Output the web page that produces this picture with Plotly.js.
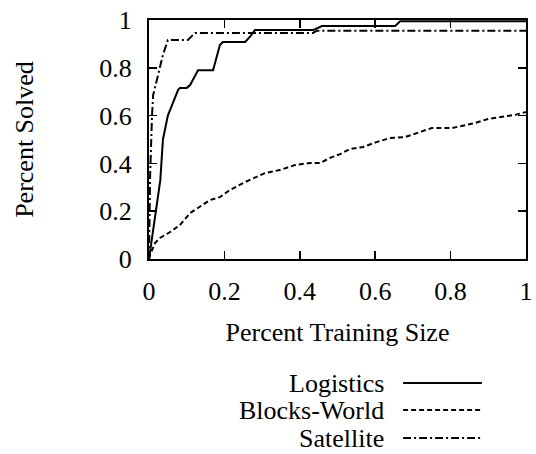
<!DOCTYPE html>
<html>
<head>
<meta charset="utf-8">
<script src="https://cdn.plot.ly/plotly-3.0.1.min.js"></script>
<style>html,body{margin:0;padding:0;background:#fff;}#chart{width:536px;height:454px;}</style>
</head>
<body>
<div id="chart"></div>
<script>
// Series names
const seriesNames = ["Logistics", "Blocks-World", "Satellite"];

// Logistics (solid)
const logX = [0, 0.03, 0.037, 0.05, 0.077, 0.082, 0.1, 0.109, 0.13, 0.17, 0.188, 0.196, 0.255, 0.268, 0.281, 0.435, 0.459, 0.653, 0.666, 1];
const logY = [0, 0.33, 0.5, 0.6, 0.707, 0.716, 0.716, 0.728, 0.79, 0.79, 0.895, 0.908, 0.908, 0.93, 0.958, 0.958, 0.975, 0.975, 0.995, 0.995];

// Blocks-World (dashed)
const bwX = [0, 0.003, 0.016, 0.029, 0.056, 0.082, 0.109, 0.135, 0.162, 0.188, 0.215, 0.255, 0.281, 0.308, 0.347, 0.387, 0.427, 0.454, 0.48, 0.507, 0.533, 0.568, 0.605, 0.639, 0.679, 0.732, 0.75, 0.804, 0.865, 0.899, 0.971, 1];
const bwY = [0, 0.017, 0.067, 0.088, 0.113, 0.142, 0.192, 0.218, 0.247, 0.259, 0.289, 0.322, 0.339, 0.36, 0.372, 0.393, 0.402, 0.402, 0.423, 0.439, 0.46, 0.469, 0.49, 0.506, 0.51, 0.54, 0.548, 0.548, 0.569, 0.586, 0.603, 0.615];

// Satellite (dash-dot)
const satX = [0, 0.003, 0.008, 0.011, 0.024, 0.037, 0.05, 0.103, 0.122, 0.435, 0.445, 1];
const satY = [0, 0.35, 0.6, 0.686, 0.77, 0.854, 0.916, 0.916, 0.946, 0.946, 0.955, 0.955];

// Tick values / labels
const tickVals = [0, 0.2, 0.4, 0.6, 0.8, 1];
const tickText = ["0", "0.2", "0.4", "0.6", "0.8", "1"];

const FONT = "Liberation Serif";
const FS = 26;
const dashes = ["solid", "5px,3px", "8px,3px,2px,3px"];
const xs = [logX, bwX, satX];
const ys = [logY, bwY, satY];

const traces = seriesNames.map((n, i) => ({
  x: xs[i], y: ys[i], name: n, type: "scatter", mode: "lines",
  line: {color: "#000", width: 2, dash: dashes[i]},
  showlegend: false, hoverinfo: "skip"
}));

// Custom gnuplot-style key: text right-aligned, sample line on the right
const keyRowsY = [-0.519, -0.632, -0.749];
const annotations = seriesNames.map((n, i) => ({
  xref: "paper", yref: "paper", x: 0.629, y: keyRowsY[i],
  xanchor: "right", yanchor: "middle", text: n, showarrow: false,
  font: {family: FONT, size: FS, color: "#000"}
}));
const shapes = seriesNames.map((n, i) => ({
  type: "line", xref: "paper", yref: "paper",
  x0: 0.674, x1: 0.883, y0: keyRowsY[i], y1: keyRowsY[i],
  line: {color: "#000", width: 2, dash: dashes[i]}
}));

const axisCommon = {
  range: [0, 1], tickvals: tickVals, ticktext: tickText,
  ticks: "inside", ticklen: 8, tickwidth: 1.5, tickcolor: "#000",
  showline: true, linewidth: 2, linecolor: "#000", mirror: "ticks",
  showgrid: false, zeroline: false, automargin: false,
  tickfont: {family: FONT, size: FS, color: "#000"}
};

const layout = {
  width: 536, height: 454,
  margin: {l: 149, r: 10, t: 20, b: 195},
  paper_bgcolor: "#fff", plot_bgcolor: "#fff",
  showlegend: false,
  xaxis: Object.assign({}, axisCommon, {
    ticklabelstandoff: 8,
    title: {text: "Percent Training Size", font: {family: FONT, size: FS, color: "#000"}, standoff: 18}
  }),
  yaxis: Object.assign({}, axisCommon, {
    ticklabelstandoff: 10,
    title: {text: "Percent Solved", font: {family: FONT, size: FS, color: "#000"}, standoff: 58}
  }),
  annotations: annotations,
  shapes: shapes
};

Plotly.newPlot("chart", traces, layout, {displayModeBar: false, staticPlot: true});
</script>
</body>
</html>
